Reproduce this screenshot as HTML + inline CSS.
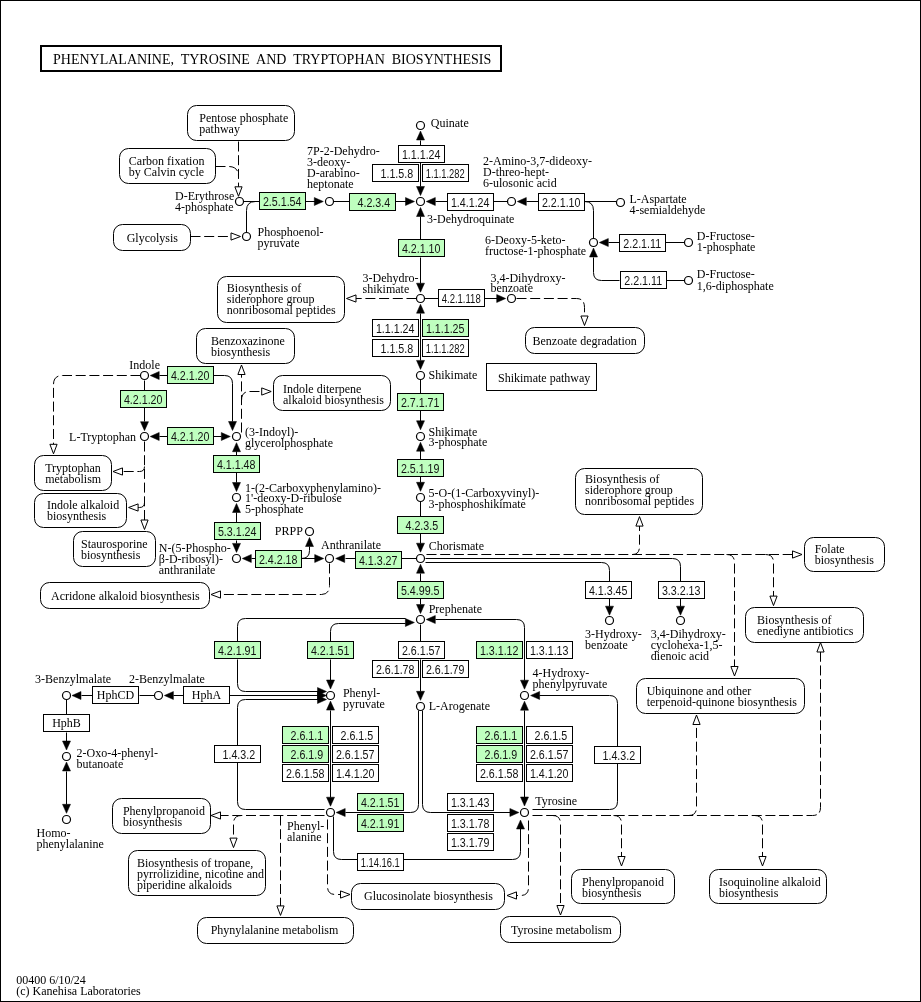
<!DOCTYPE html>
<html><head><meta charset="utf-8"><style>
html,body{margin:0;padding:0;background:#fff;}
svg{display:block;will-change:transform;}
text.s{font-family:"Liberation Serif",serif;font-size:12px;fill:#000;}
text.n{font-family:"Liberation Sans",sans-serif;font-size:12px;fill:#000;}
text.e{font-family:"Liberation Sans",sans-serif;font-size:12px;fill:#111;}
text.t{font-family:"Liberation Serif",serif;font-size:14px;fill:#000;}
</style></head><body>
<svg width="921" height="1002" viewBox="0 0 921 1002">
<rect x="0.5" y="0.5" width="920" height="1001" fill="#fff" stroke="#000" stroke-width="1"/>
<rect x="41" y="46" width="460" height="25" fill="#fff" stroke="#000" stroke-width="2"/>
<text class="t" x="53" y="63.7" xml:space="preserve">PHENYLALANINE,  TYROSINE  AND  TRYPTOPHAN  BIOSYNTHESIS</text>
<path d="M238.5 141.5 V187.5" fill="none" stroke="#000" stroke-width="1" stroke-dasharray="10,3.7"/>
<path d="M215.5 166.5 H228.5 Q238.5 166.5 238.5 176.5" fill="none" stroke="#000" stroke-width="1" stroke-dasharray="10,3.7"/>
<polygon points="238.5,196.3 234.90,186.80 242.10,186.80" fill="#fff" stroke="#000" stroke-width="1"/>
<path d="M190.5 236.5 H231.5" fill="none" stroke="#000" stroke-width="1" stroke-dasharray="10,3.7"/>
<polygon points="240.5,236.5 231.00,240.10 231.00,232.90" fill="#fff" stroke="#000" stroke-width="1"/>
<path d="M416.5 298.5 H355.5" fill="none" stroke="#000" stroke-width="1" stroke-dasharray="10,3.7"/>
<polygon points="346.5,298.5 356.00,294.90 356.00,302.10" fill="#fff" stroke="#000" stroke-width="1"/>
<path d="M516.5 298.5 H576.5 Q584.5 298.5 584.5 307.5 V317.5" fill="none" stroke="#000" stroke-width="1" stroke-dasharray="10,3.7"/>
<polygon points="584.5,325.5 580.90,316.00 588.10,316.00" fill="#fff" stroke="#000" stroke-width="1"/>
<path d="M140.5 375.5 H62.5 Q53.5 375.5 53.5 384.5 V445.5" fill="none" stroke="#000" stroke-width="1" stroke-dasharray="10,3.7"/>
<polygon points="53.5,453.8 49.90,444.30 57.10,444.30" fill="#fff" stroke="#000" stroke-width="1"/>
<path d="M144.5 441.5 V522.5" fill="none" stroke="#000" stroke-width="1" stroke-dasharray="10,3.7"/>
<path d="M144.5 466.5 Q144.5 471.5 139.5 471.5 H121.5" fill="none" stroke="#000" stroke-width="1" stroke-dasharray="10,3.7"/>
<polygon points="113,471.5 122.50,467.90 122.50,475.10" fill="#fff" stroke="#000" stroke-width="1"/>
<path d="M144.5 502.5 Q144.5 507.5 139.5 507.5 H136.5" fill="none" stroke="#000" stroke-width="1" stroke-dasharray="10,3.7"/>
<polygon points="128.6,507.5 138.10,503.90 138.10,511.10" fill="#fff" stroke="#000" stroke-width="1"/>
<polygon points="144.5,529.5 140.90,520.00 148.10,520.00" fill="#fff" stroke="#000" stroke-width="1"/>
<path d="M241.5 432.5 V373.5" fill="none" stroke="#000" stroke-width="1" stroke-dasharray="10,3.7"/>
<path d="M241.5 400.5 Q241.5 391.5 249.5 391.5 H263.5" fill="none" stroke="#000" stroke-width="1" stroke-dasharray="10,3.7"/>
<polygon points="271.2,391.5 261.70,395.10 261.70,387.90" fill="#fff" stroke="#000" stroke-width="1"/>
<polygon points="241.5,365 245.10,374.50 237.90,374.50" fill="#fff" stroke="#000" stroke-width="1"/>
<path d="M329.5 563.5 V585.5 Q329.5 594.5 321.5 594.5 H219.5" fill="none" stroke="#000" stroke-width="1" stroke-dasharray="10,3.7"/>
<polygon points="211,594.5 220.50,590.90 220.50,598.10" fill="#fff" stroke="#000" stroke-width="1"/>
<path d="M426.5 554.5 H794.5" fill="none" stroke="#000" stroke-width="1" stroke-dasharray="10,3.7"/>
<polygon points="802,554.5 792.50,558.10 792.50,550.90" fill="#fff" stroke="#000" stroke-width="1"/>
<path d="M632.5 554.5 Q639.5 554.5 639.5 546.5 V525.5" fill="none" stroke="#000" stroke-width="1" stroke-dasharray="10,3.7"/>
<polygon points="639.5,516.6 643.10,526.10 635.90,526.10" fill="#fff" stroke="#000" stroke-width="1"/>
<path d="M726.5 554.5 Q734.5 554.5 734.5 562.5 V668.5" fill="none" stroke="#000" stroke-width="1" stroke-dasharray="10,3.7"/>
<polygon points="734.5,676 730.90,666.50 738.10,666.50" fill="#fff" stroke="#000" stroke-width="1"/>
<path d="M765.5 554.5 Q773.5 554.5 773.5 562.5 V597.5" fill="none" stroke="#000" stroke-width="1" stroke-dasharray="10,3.7"/>
<polygon points="773.5,605.6 769.90,596.10 777.10,596.10" fill="#fff" stroke="#000" stroke-width="1"/>
<path d="M327.5 819.5 V886.5 Q327.5 894.5 335.5 894.5 H341.5" fill="none" stroke="#000" stroke-width="1" stroke-dasharray="10,3.7"/>
<polygon points="350,894.5 340.50,898.10 340.50,890.90" fill="#fff" stroke="#000" stroke-width="1"/>
<path d="M324.5 815.5 H219.5" fill="none" stroke="#000" stroke-width="1" stroke-dasharray="10,3.7"/>
<polygon points="211,815.5 220.50,811.90 220.50,819.10" fill="#fff" stroke="#000" stroke-width="1"/>
<path d="M241.5 815.5 Q233.5 815.5 233.5 823.5 V839.5" fill="none" stroke="#000" stroke-width="1" stroke-dasharray="10,3.7"/>
<polygon points="233.5,847.6 229.90,838.10 237.10,838.10" fill="#fff" stroke="#000" stroke-width="1"/>
<path d="M280.5 815.5 V907.5" fill="none" stroke="#000" stroke-width="1" stroke-dasharray="10,3.7"/>
<polygon points="280.5,915.4 276.90,905.90 284.10,905.90" fill="#fff" stroke="#000" stroke-width="1"/>
<path d="M532.5 815.5 H812.5 Q820.5 815.5 820.5 807.5 V651.5" fill="none" stroke="#000" stroke-width="1" stroke-dasharray="10,3.7"/>
<polygon points="820.5,642.5 824.10,652.00 816.90,652.00" fill="#fff" stroke="#000" stroke-width="1"/>
<path d="M688.5 815.5 Q696.5 815.5 696.5 807.5 V724.5" fill="none" stroke="#000" stroke-width="1" stroke-dasharray="10,3.7"/>
<polygon points="696.5,715 700.10,724.50 692.90,724.50" fill="#fff" stroke="#000" stroke-width="1"/>
<path d="M613.5 815.5 Q621.5 815.5 621.5 823.5 V858.5" fill="none" stroke="#000" stroke-width="1" stroke-dasharray="10,3.7"/>
<polygon points="621.5,866 617.90,856.50 625.10,856.50" fill="#fff" stroke="#000" stroke-width="1"/>
<path d="M754.5 815.5 Q762.5 815.5 762.5 823.5 V858.5" fill="none" stroke="#000" stroke-width="1" stroke-dasharray="10,3.7"/>
<polygon points="762.5,866 758.90,856.50 766.10,856.50" fill="#fff" stroke="#000" stroke-width="1"/>
<path d="M552.5 815.5 Q560.5 815.5 560.5 823.5 V907.5" fill="none" stroke="#000" stroke-width="1" stroke-dasharray="10,3.7"/>
<polygon points="560.5,915 556.90,905.50 564.10,905.50" fill="#fff" stroke="#000" stroke-width="1"/>
<path d="M528.5 820.5 V887.5 Q528.5 895.5 520.5 895.5 H515.5" fill="none" stroke="#000" stroke-width="1" stroke-dasharray="10,3.7"/>
<polygon points="507,895.5 516.50,891.90 516.50,899.10" fill="#fff" stroke="#000" stroke-width="1"/>
<path d="M243.5 201.5 H259.5" fill="none" stroke="#000" stroke-width="1"/>
<path d="M246.5 232.5 V210.5 Q246.5 201.5 255.5 201.5" fill="none" stroke="#000" stroke-width="1"/>
<path d="M305.5 201.5 H316.5" fill="none" stroke="#000" stroke-width="1"/>
<polygon points="323.3,201.5 314.30,205.50 314.30,197.50" fill="#000" stroke="#000" stroke-width="0.5"/>
<path d="M333.5 201.5 H349.5" fill="none" stroke="#000" stroke-width="1"/>
<path d="M395.5 201.5 H406.5" fill="none" stroke="#000" stroke-width="1"/>
<polygon points="414.5,201.5 405.50,205.50 405.50,197.50" fill="#000" stroke="#000" stroke-width="0.5"/>
<path d="M447.5 201.5 H435.5" fill="none" stroke="#000" stroke-width="1"/>
<polygon points="426.3,201.5 435.30,197.50 435.30,205.50" fill="#000" stroke="#000" stroke-width="0.5"/>
<path d="M493.5 201.5 H507.5" fill="none" stroke="#000" stroke-width="1"/>
<path d="M538.5 201.5 H526.5" fill="none" stroke="#000" stroke-width="1"/>
<polygon points="517.3,201.5 526.30,197.50 526.30,205.50" fill="#000" stroke="#000" stroke-width="0.5"/>
<path d="M584.5 201.5 H616.5" fill="none" stroke="#000" stroke-width="1"/>
<path d="M584.5 201.5 Q593.5 201.5 593.5 210.5 V238.5" fill="none" stroke="#000" stroke-width="1"/>
<path d="M619.5 242.5 H608.5" fill="none" stroke="#000" stroke-width="1"/>
<polygon points="599.3,242.5 608.30,238.50 608.30,246.50" fill="#000" stroke="#000" stroke-width="0.5"/>
<path d="M665.5 242.5 H684.5" fill="none" stroke="#000" stroke-width="1"/>
<path d="M593.5 257.5 V272.5 Q593.5 280.5 601.5 280.5 H619.5" fill="none" stroke="#000" stroke-width="1"/>
<polygon points="593.5,248.0 597.50,257.00 589.50,257.00" fill="#000" stroke="#000" stroke-width="0.5"/>
<path d="M665.5 280.5 H684.5" fill="none" stroke="#000" stroke-width="1"/>
<path d="M420.5 145.5 V140.5" fill="none" stroke="#000" stroke-width="1"/>
<polygon points="420.5,131.0 424.50,140.00 416.50,140.00" fill="#000" stroke="#000" stroke-width="0.5"/>
<path d="M420.5 162.5 V186.5" fill="none" stroke="#000" stroke-width="1"/>
<polygon points="420.5,195.5 416.50,186.50 424.50,186.50" fill="#000" stroke="#000" stroke-width="0.5"/>
<polygon points="420.5,207.5 424.50,216.50 416.50,216.50" fill="#000" stroke="#000" stroke-width="0.5"/>
<path d="M420.5 216.5 V240.5" fill="none" stroke="#000" stroke-width="1"/>
<path d="M420.5 257.5 V283.5" fill="none" stroke="#000" stroke-width="1"/>
<polygon points="420.5,292.2 416.50,283.20 424.50,283.20" fill="#000" stroke="#000" stroke-width="0.5"/>
<path d="M424.5 298.5 H438.5" fill="none" stroke="#000" stroke-width="1"/>
<path d="M484.5 298.5 H497.5" fill="none" stroke="#000" stroke-width="1"/>
<polygon points="505.7,298.5 496.70,302.50 496.70,294.50" fill="#000" stroke="#000" stroke-width="0.5"/>
<polygon points="420.5,304.2 424.50,313.20 416.50,313.20" fill="#000" stroke="#000" stroke-width="0.5"/>
<path d="M420.5 313.5 V360.5" fill="none" stroke="#000" stroke-width="1"/>
<polygon points="420.5,369.4 416.50,360.40 424.50,360.40" fill="#000" stroke="#000" stroke-width="0.5"/>
<path d="M420.5 379.5 V394.5" fill="none" stroke="#000" stroke-width="1"/>
<path d="M420.5 410.5 V421.5" fill="none" stroke="#000" stroke-width="1"/>
<polygon points="420.5,429.8 416.50,420.80 424.50,420.80" fill="#000" stroke="#000" stroke-width="0.5"/>
<polygon points="420.5,442.2 424.50,451.20 416.50,451.20" fill="#000" stroke="#000" stroke-width="0.5"/>
<path d="M420.5 450.5 V460.5" fill="none" stroke="#000" stroke-width="1"/>
<path d="M420.5 476.5 V482.5" fill="none" stroke="#000" stroke-width="1"/>
<polygon points="420.5,491.3 416.50,482.30 424.50,482.30" fill="#000" stroke="#000" stroke-width="0.5"/>
<path d="M420.5 501.5 V517.5" fill="none" stroke="#000" stroke-width="1"/>
<path d="M420.5 533.5 V543.5" fill="none" stroke="#000" stroke-width="1"/>
<polygon points="420.5,552.2 416.50,543.20 424.50,543.20" fill="#000" stroke="#000" stroke-width="0.5"/>
<polygon points="420.5,564.2 424.50,573.20 416.50,573.20" fill="#000" stroke="#000" stroke-width="0.5"/>
<path d="M420.5 573.5 V582.5" fill="none" stroke="#000" stroke-width="1"/>
<path d="M420.5 598.5 V604.5" fill="none" stroke="#000" stroke-width="1"/>
<polygon points="420.5,613.5 416.50,604.50 424.50,604.50" fill="#000" stroke="#000" stroke-width="0.5"/>
<path d="M416.5 558.5 H401.5" fill="none" stroke="#000" stroke-width="1"/>
<path d="M355.5 558.5 H345.5" fill="none" stroke="#000" stroke-width="1"/>
<polygon points="335.7,558.5 344.70,554.50 344.70,562.50" fill="#000" stroke="#000" stroke-width="0.5"/>
<path d="M301.5 558.5 H315.5" fill="none" stroke="#000" stroke-width="1"/>
<polygon points="323.7,558.5 314.70,562.50 314.70,554.50" fill="#000" stroke="#000" stroke-width="0.5"/>
<path d="M301.5 558.5 Q309.5 558.5 309.5 550.5 V546.5" fill="none" stroke="#000" stroke-width="1"/>
<polygon points="309.5,537.5 313.50,546.50 305.50,546.50" fill="#000" stroke="#000" stroke-width="0.5"/>
<path d="M256.5 558.5 H251.5" fill="none" stroke="#000" stroke-width="1"/>
<polygon points="242.3,558.5 251.30,554.50 251.30,562.50" fill="#000" stroke="#000" stroke-width="0.5"/>
<path d="M236.5 540.5 V543.5" fill="none" stroke="#000" stroke-width="1"/>
<polygon points="236.5,552.4 232.50,543.40 240.50,543.40" fill="#000" stroke="#000" stroke-width="0.5"/>
<path d="M236.5 523.5 V512.5" fill="none" stroke="#000" stroke-width="1"/>
<polygon points="236.5,503.5 240.50,512.50 232.50,512.50" fill="#000" stroke="#000" stroke-width="0.5"/>
<path d="M236.5 472.5 V482.5" fill="none" stroke="#000" stroke-width="1"/>
<polygon points="236.5,491.5 232.50,482.50 240.50,482.50" fill="#000" stroke="#000" stroke-width="0.5"/>
<path d="M236.5 456.5 V451.5" fill="none" stroke="#000" stroke-width="1"/>
<polygon points="236.5,442.7 240.50,451.70 232.50,451.70" fill="#000" stroke="#000" stroke-width="0.5"/>
<path d="M213.5 436.5 H221.5" fill="none" stroke="#000" stroke-width="1"/>
<polygon points="230.3,436.5 221.30,440.50 221.30,432.50" fill="#000" stroke="#000" stroke-width="0.5"/>
<path d="M168.5 436.5 H159.5" fill="none" stroke="#000" stroke-width="1"/>
<polygon points="150.2,436.5 159.20,432.50 159.20,440.50" fill="#000" stroke="#000" stroke-width="0.5"/>
<path d="M213.5 375.5 H224.5 Q232.5 375.5 232.5 383.5 V421.5" fill="none" stroke="#000" stroke-width="1"/>
<polygon points="232.5,430.5 228.50,421.50 236.50,421.50" fill="#000" stroke="#000" stroke-width="0.5"/>
<path d="M168.5 375.5 H159.5" fill="none" stroke="#000" stroke-width="1"/>
<polygon points="150.2,375.5 159.20,371.50 159.20,379.50" fill="#000" stroke="#000" stroke-width="0.5"/>
<path d="M144.5 380.5 V390.5" fill="none" stroke="#000" stroke-width="1"/>
<path d="M144.5 407.5 V421.5" fill="none" stroke="#000" stroke-width="1"/>
<polygon points="144.5,430.7 140.50,421.70 148.50,421.70" fill="#000" stroke="#000" stroke-width="0.5"/>
<path d="M425.5 558.5 H672.5 Q680.5 558.5 680.5 566.5 V582.5" fill="none" stroke="#000" stroke-width="1"/>
<path d="M425.5 562.5 H601.5 Q609.5 562.5 609.5 570.5 V582.5" fill="none" stroke="#000" stroke-width="1"/>
<path d="M609.5 598.5 V606.5" fill="none" stroke="#000" stroke-width="1"/>
<polygon points="609.5,615.2 605.50,606.20 613.50,606.20" fill="#000" stroke="#000" stroke-width="0.5"/>
<path d="M680.5 598.5 V606.5" fill="none" stroke="#000" stroke-width="1"/>
<polygon points="680.5,615.2 676.50,606.20 684.50,606.20" fill="#000" stroke="#000" stroke-width="0.5"/>
<path d="M237.5 641.5 V626.5 Q237.5 618.5 245.5 618.5 H405.5" fill="none" stroke="#000" stroke-width="1"/>
<path d="M330.5 642.5 V631.5 Q330.5 623.5 338.5 623.5 H405.5" fill="none" stroke="#000" stroke-width="1"/>
<polygon points="414.4,622.5 405.40,626.50 405.40,618.50" fill="#000" stroke="#000" stroke-width="0.5"/>
<polygon points="426.3,619.5 435.30,615.50 435.30,623.50" fill="#000" stroke="#000" stroke-width="0.5"/>
<path d="M435.5 619.5 H516.5 Q524.5 619.5 524.5 627.5 V680.5" fill="none" stroke="#000" stroke-width="1"/>
<polygon points="524.5,689.2 520.50,680.20 528.50,680.20" fill="#000" stroke="#000" stroke-width="0.5"/>
<path d="M420.5 624.5 V642.5" fill="none" stroke="#000" stroke-width="1"/>
<path d="M420.5 659.5 V691.5" fill="none" stroke="#000" stroke-width="1"/>
<polygon points="420.5,700.3 416.50,691.30 424.50,691.30" fill="#000" stroke="#000" stroke-width="0.5"/>
<path d="M330.5 659.5 V680.5" fill="none" stroke="#000" stroke-width="1"/>
<polygon points="330.5,689.0 326.50,680.00 334.50,680.00" fill="#000" stroke="#000" stroke-width="0.5"/>
<path d="M237.5 659.5 V683.5 Q237.5 691.5 245.5 691.5 H318.5" fill="none" stroke="#000" stroke-width="1"/>
<path d="M229.5 695.5 H318.5" fill="none" stroke="#000" stroke-width="1"/>
<path d="M237.5 745.5 V707.5 Q237.5 699.5 245.5 699.5 H318.5" fill="none" stroke="#000" stroke-width="1"/>
<polygon points="326.5,691.5 317.50,695.50 317.50,687.50" fill="#000" stroke="#000" stroke-width="0.5"/>
<polygon points="326.5,695.5 317.50,699.50 317.50,691.50" fill="#000" stroke="#000" stroke-width="0.5"/>
<polygon points="326.5,699.5 317.50,703.50 317.50,695.50" fill="#000" stroke="#000" stroke-width="0.5"/>
<polygon points="330.5,701.1 334.50,710.10 326.50,710.10" fill="#000" stroke="#000" stroke-width="0.5"/>
<path d="M330.5 710.5 V797.5" fill="none" stroke="#000" stroke-width="1"/>
<polygon points="330.5,806.2 326.50,797.20 334.50,797.20" fill="#000" stroke="#000" stroke-width="0.5"/>
<path d="M237.5 762.5 V801.5 Q237.5 809.5 245.5 809.5 H324.5" fill="none" stroke="#000" stroke-width="1"/>
<path d="M418.5 710.5 V804.5 Q418.5 812.5 410.5 812.5 H345.5" fill="none" stroke="#000" stroke-width="1"/>
<polygon points="336.2,812.5 345.20,808.50 345.20,816.50" fill="#000" stroke="#000" stroke-width="0.5"/>
<path d="M422.5 710.5 V804.5 Q422.5 812.5 430.5 812.5 H510.5" fill="none" stroke="#000" stroke-width="1"/>
<polygon points="518.9,812.5 509.90,816.50 509.90,808.50" fill="#000" stroke="#000" stroke-width="0.5"/>
<path d="M333.5 816.5 V851.5 Q333.5 859.5 341.5 859.5 H357.5" fill="none" stroke="#000" stroke-width="1"/>
<path d="M403.5 859.5 H512.5 Q520.5 859.5 520.5 851.5 V828.5" fill="none" stroke="#000" stroke-width="1"/>
<polygon points="520.5,820.0 524.50,829.00 516.50,829.00" fill="#000" stroke="#000" stroke-width="0.5"/>
<polygon points="530.6,695.5 539.60,691.50 539.60,699.50" fill="#000" stroke="#000" stroke-width="0.5"/>
<path d="M539.5 695.5 H609.5 Q617.5 695.5 617.5 703.5 V746.5" fill="none" stroke="#000" stroke-width="1"/>
<path d="M617.5 763.5 V801.5 Q617.5 809.5 609.5 809.5 H532.5" fill="none" stroke="#000" stroke-width="1"/>
<polygon points="524.5,701.2 528.50,710.20 520.50,710.20" fill="#000" stroke="#000" stroke-width="0.5"/>
<path d="M524.5 710.5 V797.5" fill="none" stroke="#000" stroke-width="1"/>
<polygon points="524.5,806.0 520.50,797.00 528.50,797.00" fill="#000" stroke="#000" stroke-width="0.5"/>
<path d="M92.5 695.5 H81.5" fill="none" stroke="#000" stroke-width="1"/>
<polygon points="72.0,695.5 81.00,691.50 81.00,699.50" fill="#000" stroke="#000" stroke-width="0.5"/>
<path d="M139.5 695.5 H154.5" fill="none" stroke="#000" stroke-width="1"/>
<path d="M183.5 695.5 H173.5" fill="none" stroke="#000" stroke-width="1"/>
<polygon points="164.4,695.5 173.40,691.50 173.40,699.50" fill="#000" stroke="#000" stroke-width="0.5"/>
<path d="M66.5 699.5 V714.5" fill="none" stroke="#000" stroke-width="1"/>
<path d="M66.5 732.5 V741.5" fill="none" stroke="#000" stroke-width="1"/>
<polygon points="66.5,750.0 62.50,741.00 70.50,741.00" fill="#000" stroke="#000" stroke-width="0.5"/>
<polygon points="66.5,762.0 70.50,771.00 62.50,771.00" fill="#000" stroke="#000" stroke-width="0.5"/>
<path d="M66.5 771.5 V804.5" fill="none" stroke="#000" stroke-width="1"/>
<polygon points="66.5,813.3 62.50,804.30 70.50,804.30" fill="#000" stroke="#000" stroke-width="0.5"/>
<rect x="187.5" y="105.5" width="107.0" height="35.0" rx="9" ry="9" fill="#fff" stroke="#000" stroke-width="1"/>
<text class="s" x="199.3" y="122.00">Pentose phosphate</text>
<text class="s" x="199.3" y="133.00">pathway</text>
<rect x="119.5" y="148.5" width="96.0" height="35.0" rx="9" ry="9" fill="#fff" stroke="#000" stroke-width="1"/>
<text class="s" x="128.8" y="165.00">Carbon fixation</text>
<text class="s" x="128.8" y="176.00">by Calvin cycle</text>
<rect x="113.5" y="224.5" width="77.0" height="26.0" rx="9" ry="9" fill="#fff" stroke="#000" stroke-width="1"/>
<text class="s" x="126.7" y="241.60">Glycolysis</text>
<rect x="217.5" y="276.5" width="127.0" height="46.0" rx="9" ry="9" fill="#fff" stroke="#000" stroke-width="1"/>
<text class="s" x="226.8" y="292.00">Biosynthesis of</text>
<text class="s" x="226.8" y="303.00">siderophore group</text>
<text class="s" x="226.8" y="314.00">nonribosomal peptides</text>
<rect x="525.5" y="327.5" width="119.0" height="26.0" rx="9" ry="9" fill="#fff" stroke="#000" stroke-width="1"/>
<text class="s" x="532.5" y="345.30">Benzoate degradation</text>
<rect x="486.5" y="363.5" width="110.0" height="27.0" rx="0" ry="0" fill="#fff" stroke="#000" stroke-width="1"/>
<text class="s" x="498" y="382.00">Shikimate pathway</text>
<rect x="196.5" y="328.5" width="98.0" height="35.0" rx="9" ry="9" fill="#fff" stroke="#000" stroke-width="1"/>
<text class="s" x="210.9" y="345.00">Benzoxazinone</text>
<text class="s" x="210.9" y="356.00">biosynthesis</text>
<rect x="273.5" y="375.5" width="117.0" height="35.0" rx="9" ry="9" fill="#fff" stroke="#000" stroke-width="1"/>
<text class="s" x="283" y="392.70">Indole diterpene</text>
<text class="s" x="283" y="403.70">alkaloid biosynthesis</text>
<rect x="34.5" y="455.5" width="77.0" height="35.0" rx="9" ry="9" fill="#fff" stroke="#000" stroke-width="1"/>
<text class="s" x="45.2" y="472.20">Tryptophan</text>
<text class="s" x="45.2" y="483.20">metabolism</text>
<rect x="34.5" y="493.5" width="92.0" height="34.0" rx="9" ry="9" fill="#fff" stroke="#000" stroke-width="1"/>
<text class="s" x="46.9" y="509.40">Indole alkaloid</text>
<text class="s" x="46.9" y="520.40">biosynthesis</text>
<rect x="73.5" y="531.5" width="82.0" height="35.0" rx="9" ry="9" fill="#fff" stroke="#000" stroke-width="1"/>
<text class="s" x="81" y="547.60">Staurosporine</text>
<text class="s" x="81" y="558.60">biosynthesis</text>
<rect x="40.5" y="582.5" width="169.0" height="26.0" rx="9" ry="9" fill="#fff" stroke="#000" stroke-width="1"/>
<text class="s" x="51" y="599.70">Acridone alkaloid biosynthesis</text>
<rect x="575.5" y="468.5" width="127.0" height="46.0" rx="9" ry="9" fill="#fff" stroke="#000" stroke-width="1"/>
<text class="s" x="585.1" y="482.50">Biosynthesis of</text>
<text class="s" x="585.1" y="493.50">siderophore group</text>
<text class="s" x="585.1" y="504.50">nonribosomal peptides</text>
<rect x="804.5" y="537.5" width="80.0" height="34.0" rx="9" ry="9" fill="#fff" stroke="#000" stroke-width="1"/>
<text class="s" x="814.7" y="552.60">Folate</text>
<text class="s" x="814.7" y="563.60">biosynthesis</text>
<rect x="745.5" y="607.5" width="118.0" height="35.0" rx="9" ry="9" fill="#fff" stroke="#000" stroke-width="1"/>
<text class="s" x="757.1" y="624.20">Biosynthesis of</text>
<text class="s" x="757.1" y="635.20">enediyne antibiotics</text>
<rect x="636.5" y="678.5" width="168.0" height="35.0" rx="9" ry="9" fill="#fff" stroke="#000" stroke-width="1"/>
<text class="s" x="646.7" y="694.70">Ubiquinone and other</text>
<text class="s" x="646.7" y="705.70">terpenoid-quinone biosynthesis</text>
<rect x="112.5" y="798.5" width="98.0" height="35.0" rx="9" ry="9" fill="#fff" stroke="#000" stroke-width="1"/>
<text class="s" x="122.9" y="815.00">Phenylpropanoid</text>
<text class="s" x="122.9" y="826.00">biosynthesis</text>
<rect x="128.5" y="850.5" width="137.0" height="45.0" rx="9" ry="9" fill="#fff" stroke="#000" stroke-width="1"/>
<text class="s" x="137" y="866.70">Biosynthesis of tropane,</text>
<text class="s" x="137" y="877.70">pyrrolizidine, nicotine and</text>
<text class="s" x="137" y="888.70">piperidine alkaloids</text>
<rect x="197.5" y="917.5" width="156.0" height="26.0" rx="9" ry="9" fill="#fff" stroke="#000" stroke-width="1"/>
<text class="s" x="210.7" y="933.80">Phynylalanine metabolism</text>
<rect x="351.5" y="883.5" width="153.0" height="26.0" rx="9" ry="9" fill="#fff" stroke="#000" stroke-width="1"/>
<text class="s" x="364" y="900.00">Glucosinolate biosynthesis</text>
<rect x="500.5" y="916.5" width="120.0" height="26.0" rx="9" ry="9" fill="#fff" stroke="#000" stroke-width="1"/>
<text class="s" x="511" y="933.50">Tyrosine metabolism</text>
<rect x="571.5" y="869.5" width="103.0" height="34.0" rx="9" ry="9" fill="#fff" stroke="#000" stroke-width="1"/>
<text class="s" x="582" y="886.00">Phenylpropanoid</text>
<text class="s" x="582" y="897.00">biosynthesis</text>
<rect x="709.5" y="869.5" width="117.0" height="34.0" rx="9" ry="9" fill="#fff" stroke="#000" stroke-width="1"/>
<text class="s" x="719" y="886.00">Isoquinoline alkaloid</text>
<text class="s" x="719" y="897.00">biosynthesis</text>
<rect x="259.5" y="192.5" width="46" height="17" fill="#bfffbf" stroke="#000" stroke-width="1"/>
<text class="e" x="282.2" y="205.5" text-anchor="middle" textLength="38.6" lengthAdjust="spacingAndGlyphs">2.5.1.54</text>
<rect x="349.5" y="193.5" width="46" height="17" fill="#bfffbf" stroke="#000" stroke-width="1"/>
<text class="e" x="373.8" y="206.5" text-anchor="middle" textLength="32.6" lengthAdjust="spacingAndGlyphs">4.2.3.4</text>
<rect x="398.5" y="145.5" width="46" height="17" fill="#fff" stroke="#000" stroke-width="1"/>
<text class="e" x="421.2" y="158.5" text-anchor="middle" textLength="38.6" lengthAdjust="spacingAndGlyphs">1.1.1.24</text>
<rect x="372.5" y="164.5" width="46" height="17" fill="#fff" stroke="#000" stroke-width="1"/>
<text class="e" x="396.8" y="177.5" text-anchor="middle" textLength="32.6" lengthAdjust="spacingAndGlyphs">1.1.5.8</text>
<rect x="422.5" y="164.5" width="46" height="17" fill="#fff" stroke="#000" stroke-width="1"/>
<text class="e" x="445.2" y="177.5" text-anchor="middle" textLength="39.0" lengthAdjust="spacingAndGlyphs">1.1.1.282</text>
<rect x="447.5" y="193.5" width="46" height="17" fill="#fff" stroke="#000" stroke-width="1"/>
<text class="e" x="470.2" y="206.5" text-anchor="middle" textLength="38.6" lengthAdjust="spacingAndGlyphs">1.4.1.24</text>
<rect x="538.5" y="193.5" width="46" height="17" fill="#fff" stroke="#000" stroke-width="1"/>
<text class="e" x="561.2" y="206.5" text-anchor="middle" textLength="38.6" lengthAdjust="spacingAndGlyphs">2.2.1.10</text>
<rect x="619.5" y="234.5" width="46" height="17" fill="#fff" stroke="#000" stroke-width="1"/>
<text class="e" x="642.2" y="247.5" text-anchor="middle" textLength="37.8" lengthAdjust="spacingAndGlyphs">2.2.1.11</text>
<rect x="620.5" y="271.5" width="46" height="17" fill="#fff" stroke="#000" stroke-width="1"/>
<text class="e" x="643.2" y="284.5" text-anchor="middle" textLength="37.8" lengthAdjust="spacingAndGlyphs">2.2.1.11</text>
<rect x="398.5" y="239.5" width="46" height="17" fill="#bfffbf" stroke="#000" stroke-width="1"/>
<text class="e" x="421.2" y="252.5" text-anchor="middle" textLength="38.6" lengthAdjust="spacingAndGlyphs">4.2.1.10</text>
<rect x="438.5" y="289.5" width="46" height="17" fill="#fff" stroke="#000" stroke-width="1"/>
<text class="e" x="461.2" y="302.5" text-anchor="middle" textLength="39.0" lengthAdjust="spacingAndGlyphs">4.2.1.118</text>
<rect x="372.5" y="319.5" width="46" height="17" fill="#fff" stroke="#000" stroke-width="1"/>
<text class="e" x="395.2" y="332.5" text-anchor="middle" textLength="38.6" lengthAdjust="spacingAndGlyphs">1.1.1.24</text>
<rect x="422.5" y="319.5" width="46" height="17" fill="#bfffbf" stroke="#000" stroke-width="1"/>
<text class="e" x="445.2" y="332.5" text-anchor="middle" textLength="38.6" lengthAdjust="spacingAndGlyphs">1.1.1.25</text>
<rect x="372.5" y="339.5" width="46" height="17" fill="#fff" stroke="#000" stroke-width="1"/>
<text class="e" x="396.8" y="352.5" text-anchor="middle" textLength="32.6" lengthAdjust="spacingAndGlyphs">1.1.5.8</text>
<rect x="422.5" y="339.5" width="46" height="17" fill="#fff" stroke="#000" stroke-width="1"/>
<text class="e" x="445.2" y="352.5" text-anchor="middle" textLength="39.0" lengthAdjust="spacingAndGlyphs">1.1.1.282</text>
<rect x="397.5" y="393.5" width="46" height="17" fill="#bfffbf" stroke="#000" stroke-width="1"/>
<text class="e" x="420.2" y="406.5" text-anchor="middle" textLength="38.6" lengthAdjust="spacingAndGlyphs">2.7.1.71</text>
<rect x="397.5" y="459.5" width="46" height="17" fill="#bfffbf" stroke="#000" stroke-width="1"/>
<text class="e" x="420.2" y="472.5" text-anchor="middle" textLength="38.6" lengthAdjust="spacingAndGlyphs">2.5.1.19</text>
<rect x="397.5" y="516.5" width="46" height="17" fill="#bfffbf" stroke="#000" stroke-width="1"/>
<text class="e" x="421.8" y="529.5" text-anchor="middle" textLength="32.6" lengthAdjust="spacingAndGlyphs">4.2.3.5</text>
<rect x="355.5" y="551.5" width="46" height="17" fill="#bfffbf" stroke="#000" stroke-width="1"/>
<text class="e" x="378.2" y="564.5" text-anchor="middle" textLength="38.6" lengthAdjust="spacingAndGlyphs">4.1.3.27</text>
<rect x="397.5" y="581.5" width="46" height="17" fill="#bfffbf" stroke="#000" stroke-width="1"/>
<text class="e" x="420.2" y="594.5" text-anchor="middle" textLength="38.6" lengthAdjust="spacingAndGlyphs">5.4.99.5</text>
<rect x="585.5" y="581.5" width="46" height="17" fill="#fff" stroke="#000" stroke-width="1"/>
<text class="e" x="608.2" y="594.5" text-anchor="middle" textLength="38.6" lengthAdjust="spacingAndGlyphs">4.1.3.45</text>
<rect x="658.5" y="581.5" width="46" height="17" fill="#fff" stroke="#000" stroke-width="1"/>
<text class="e" x="681.2" y="594.5" text-anchor="middle" textLength="38.6" lengthAdjust="spacingAndGlyphs">3.3.2.13</text>
<rect x="167.5" y="366.5" width="46" height="17" fill="#bfffbf" stroke="#000" stroke-width="1"/>
<text class="e" x="190.2" y="379.5" text-anchor="middle" textLength="38.6" lengthAdjust="spacingAndGlyphs">4.2.1.20</text>
<rect x="120.5" y="390.5" width="46" height="17" fill="#bfffbf" stroke="#000" stroke-width="1"/>
<text class="e" x="143.2" y="403.5" text-anchor="middle" textLength="38.6" lengthAdjust="spacingAndGlyphs">4.2.1.20</text>
<rect x="167.5" y="427.5" width="46" height="17" fill="#bfffbf" stroke="#000" stroke-width="1"/>
<text class="e" x="190.2" y="440.5" text-anchor="middle" textLength="38.6" lengthAdjust="spacingAndGlyphs">4.2.1.20</text>
<rect x="213.5" y="455.5" width="46" height="17" fill="#bfffbf" stroke="#000" stroke-width="1"/>
<text class="e" x="236.2" y="468.5" text-anchor="middle" textLength="38.6" lengthAdjust="spacingAndGlyphs">4.1.1.48</text>
<rect x="214.5" y="522.5" width="46" height="17" fill="#bfffbf" stroke="#000" stroke-width="1"/>
<text class="e" x="237.2" y="535.5" text-anchor="middle" textLength="38.6" lengthAdjust="spacingAndGlyphs">5.3.1.24</text>
<rect x="255.5" y="550.5" width="46" height="17" fill="#bfffbf" stroke="#000" stroke-width="1"/>
<text class="e" x="278.2" y="563.5" text-anchor="middle" textLength="38.6" lengthAdjust="spacingAndGlyphs">2.4.2.18</text>
<rect x="214.5" y="641.5" width="46" height="17" fill="#bfffbf" stroke="#000" stroke-width="1"/>
<text class="e" x="237.2" y="654.5" text-anchor="middle" textLength="38.6" lengthAdjust="spacingAndGlyphs">4.2.1.91</text>
<rect x="307.5" y="641.5" width="46" height="17" fill="#bfffbf" stroke="#000" stroke-width="1"/>
<text class="e" x="330.2" y="654.5" text-anchor="middle" textLength="38.6" lengthAdjust="spacingAndGlyphs">4.2.1.51</text>
<rect x="398.5" y="641.5" width="46" height="17" fill="#fff" stroke="#000" stroke-width="1"/>
<text class="e" x="421.2" y="654.5" text-anchor="middle" textLength="38.6" lengthAdjust="spacingAndGlyphs">2.6.1.57</text>
<rect x="372.5" y="660.5" width="46" height="17" fill="#fff" stroke="#000" stroke-width="1"/>
<text class="e" x="395.2" y="673.5" text-anchor="middle" textLength="38.6" lengthAdjust="spacingAndGlyphs">2.6.1.78</text>
<rect x="422.5" y="660.5" width="46" height="17" fill="#fff" stroke="#000" stroke-width="1"/>
<text class="e" x="445.2" y="673.5" text-anchor="middle" textLength="38.6" lengthAdjust="spacingAndGlyphs">2.6.1.79</text>
<rect x="476.5" y="641.5" width="46" height="17" fill="#bfffbf" stroke="#000" stroke-width="1"/>
<text class="e" x="499.2" y="654.5" text-anchor="middle" textLength="38.6" lengthAdjust="spacingAndGlyphs">1.3.1.12</text>
<rect x="526.5" y="641.5" width="46" height="17" fill="#fff" stroke="#000" stroke-width="1"/>
<text class="e" x="549.2" y="654.5" text-anchor="middle" textLength="38.6" lengthAdjust="spacingAndGlyphs">1.3.1.13</text>
<rect x="214.5" y="745.5" width="46" height="17" fill="#fff" stroke="#000" stroke-width="1"/>
<text class="e" x="238.8" y="758.5" text-anchor="middle" textLength="32.6" lengthAdjust="spacingAndGlyphs">1.4.3.2</text>
<rect x="282.5" y="726.5" width="46" height="17" fill="#bfffbf" stroke="#000" stroke-width="1"/>
<text class="e" x="306.8" y="739.5" text-anchor="middle" textLength="32.6" lengthAdjust="spacingAndGlyphs">2.6.1.1</text>
<rect x="332.5" y="726.5" width="46" height="17" fill="#fff" stroke="#000" stroke-width="1"/>
<text class="e" x="356.8" y="739.5" text-anchor="middle" textLength="32.6" lengthAdjust="spacingAndGlyphs">2.6.1.5</text>
<rect x="282.5" y="745.5" width="46" height="17" fill="#bfffbf" stroke="#000" stroke-width="1"/>
<text class="e" x="306.8" y="758.5" text-anchor="middle" textLength="32.6" lengthAdjust="spacingAndGlyphs">2.6.1.9</text>
<rect x="332.5" y="745.5" width="46" height="17" fill="#fff" stroke="#000" stroke-width="1"/>
<text class="e" x="355.2" y="758.5" text-anchor="middle" textLength="38.6" lengthAdjust="spacingAndGlyphs">2.6.1.57</text>
<rect x="282.5" y="764.5" width="46" height="17" fill="#fff" stroke="#000" stroke-width="1"/>
<text class="e" x="305.2" y="777.5" text-anchor="middle" textLength="38.6" lengthAdjust="spacingAndGlyphs">2.6.1.58</text>
<rect x="332.5" y="764.5" width="46" height="17" fill="#fff" stroke="#000" stroke-width="1"/>
<text class="e" x="355.2" y="777.5" text-anchor="middle" textLength="38.6" lengthAdjust="spacingAndGlyphs">1.4.1.20</text>
<rect x="357.5" y="793.5" width="46" height="17" fill="#bfffbf" stroke="#000" stroke-width="1"/>
<text class="e" x="380.2" y="806.5" text-anchor="middle" textLength="38.6" lengthAdjust="spacingAndGlyphs">4.2.1.51</text>
<rect x="357.5" y="814.5" width="46" height="17" fill="#bfffbf" stroke="#000" stroke-width="1"/>
<text class="e" x="380.2" y="827.5" text-anchor="middle" textLength="38.6" lengthAdjust="spacingAndGlyphs">4.2.1.91</text>
<rect x="447.5" y="793.5" width="46" height="17" fill="#fff" stroke="#000" stroke-width="1"/>
<text class="e" x="470.2" y="806.5" text-anchor="middle" textLength="38.6" lengthAdjust="spacingAndGlyphs">1.3.1.43</text>
<rect x="447.5" y="814.5" width="46" height="17" fill="#fff" stroke="#000" stroke-width="1"/>
<text class="e" x="470.2" y="827.5" text-anchor="middle" textLength="38.6" lengthAdjust="spacingAndGlyphs">1.3.1.78</text>
<rect x="447.5" y="833.5" width="46" height="17" fill="#fff" stroke="#000" stroke-width="1"/>
<text class="e" x="470.2" y="846.5" text-anchor="middle" textLength="38.6" lengthAdjust="spacingAndGlyphs">1.3.1.79</text>
<rect x="357.5" y="853.5" width="46" height="17" fill="#fff" stroke="#000" stroke-width="1"/>
<text class="e" x="380.2" y="866.5" text-anchor="middle" textLength="39.0" lengthAdjust="spacingAndGlyphs">1.14.16.1</text>
<rect x="476.5" y="726.5" width="46" height="17" fill="#bfffbf" stroke="#000" stroke-width="1"/>
<text class="e" x="500.8" y="739.5" text-anchor="middle" textLength="32.6" lengthAdjust="spacingAndGlyphs">2.6.1.1</text>
<rect x="526.5" y="726.5" width="46" height="17" fill="#fff" stroke="#000" stroke-width="1"/>
<text class="e" x="550.8" y="739.5" text-anchor="middle" textLength="32.6" lengthAdjust="spacingAndGlyphs">2.6.1.5</text>
<rect x="476.5" y="745.5" width="46" height="17" fill="#bfffbf" stroke="#000" stroke-width="1"/>
<text class="e" x="500.8" y="758.5" text-anchor="middle" textLength="32.6" lengthAdjust="spacingAndGlyphs">2.6.1.9</text>
<rect x="526.5" y="745.5" width="46" height="17" fill="#fff" stroke="#000" stroke-width="1"/>
<text class="e" x="549.2" y="758.5" text-anchor="middle" textLength="38.6" lengthAdjust="spacingAndGlyphs">2.6.1.57</text>
<rect x="476.5" y="764.5" width="46" height="17" fill="#fff" stroke="#000" stroke-width="1"/>
<text class="e" x="499.2" y="777.5" text-anchor="middle" textLength="38.6" lengthAdjust="spacingAndGlyphs">2.6.1.58</text>
<rect x="526.5" y="764.5" width="46" height="17" fill="#fff" stroke="#000" stroke-width="1"/>
<text class="e" x="549.2" y="777.5" text-anchor="middle" textLength="38.6" lengthAdjust="spacingAndGlyphs">1.4.1.20</text>
<rect x="594.5" y="746.5" width="46" height="17" fill="#fff" stroke="#000" stroke-width="1"/>
<text class="e" x="618.8" y="759.5" text-anchor="middle" textLength="32.6" lengthAdjust="spacingAndGlyphs">1.4.3.2</text>
<rect x="92.5" y="686.5" width="46" height="17" fill="#fff" stroke="#000" stroke-width="1"/>
<text class="s" x="115.5" y="699" text-anchor="middle">HphCD</text>
<rect x="183.5" y="686.5" width="46" height="17" fill="#fff" stroke="#000" stroke-width="1"/>
<text class="s" x="206.5" y="699" text-anchor="middle">HphA</text>
<rect x="43.5" y="714.5" width="46" height="17" fill="#fff" stroke="#000" stroke-width="1"/>
<text class="s" x="66.5" y="727" text-anchor="middle">HphB</text>
<circle cx="239.5" cy="201.5" r="4" fill="#fff" stroke="#000" stroke-width="1.2"/>
<circle cx="246.5" cy="236.5" r="4" fill="#fff" stroke="#000" stroke-width="1.2"/>
<circle cx="329.5" cy="201.5" r="4" fill="#fff" stroke="#000" stroke-width="1.2"/>
<circle cx="420.5" cy="125.5" r="4" fill="#fff" stroke="#000" stroke-width="1.2"/>
<circle cx="420.5" cy="201.5" r="4" fill="#fff" stroke="#000" stroke-width="1.2"/>
<circle cx="511.5" cy="201.5" r="4" fill="#fff" stroke="#000" stroke-width="1.2"/>
<circle cx="620.5" cy="202.5" r="4" fill="#fff" stroke="#000" stroke-width="1.2"/>
<circle cx="593.5" cy="242.5" r="4" fill="#fff" stroke="#000" stroke-width="1.2"/>
<circle cx="688.5" cy="242.5" r="4" fill="#fff" stroke="#000" stroke-width="1.2"/>
<circle cx="688.5" cy="280.5" r="4" fill="#fff" stroke="#000" stroke-width="1.2"/>
<circle cx="420.5" cy="298.5" r="4" fill="#fff" stroke="#000" stroke-width="1.2"/>
<circle cx="511.5" cy="298.5" r="4" fill="#fff" stroke="#000" stroke-width="1.2"/>
<circle cx="420.5" cy="375.5" r="4" fill="#fff" stroke="#000" stroke-width="1.2"/>
<circle cx="420.5" cy="436.5" r="4" fill="#fff" stroke="#000" stroke-width="1.2"/>
<circle cx="420.5" cy="497.5" r="4" fill="#fff" stroke="#000" stroke-width="1.2"/>
<circle cx="420.5" cy="558.5" r="4" fill="#fff" stroke="#000" stroke-width="1.2"/>
<circle cx="329.5" cy="558.5" r="4" fill="#fff" stroke="#000" stroke-width="1.2"/>
<circle cx="309.5" cy="531.5" r="4" fill="#fff" stroke="#000" stroke-width="1.2"/>
<circle cx="236.5" cy="558.5" r="4" fill="#fff" stroke="#000" stroke-width="1.2"/>
<circle cx="236.5" cy="497.5" r="4" fill="#fff" stroke="#000" stroke-width="1.2"/>
<circle cx="236.5" cy="436.5" r="4" fill="#fff" stroke="#000" stroke-width="1.2"/>
<circle cx="144.5" cy="375.5" r="4" fill="#fff" stroke="#000" stroke-width="1.2"/>
<circle cx="144.5" cy="436.5" r="4" fill="#fff" stroke="#000" stroke-width="1.2"/>
<circle cx="420.5" cy="619.5" r="4" fill="#fff" stroke="#000" stroke-width="1.2"/>
<circle cx="330.5" cy="695.5" r="4" fill="#fff" stroke="#000" stroke-width="1.2"/>
<circle cx="420.5" cy="706.5" r="4" fill="#fff" stroke="#000" stroke-width="1.2"/>
<circle cx="524.5" cy="695.5" r="4" fill="#fff" stroke="#000" stroke-width="1.2"/>
<circle cx="330.5" cy="812.5" r="4" fill="#fff" stroke="#000" stroke-width="1.2"/>
<circle cx="524.5" cy="812.5" r="4" fill="#fff" stroke="#000" stroke-width="1.2"/>
<circle cx="609.5" cy="620.5" r="4" fill="#fff" stroke="#000" stroke-width="1.2"/>
<circle cx="680.5" cy="620.5" r="4" fill="#fff" stroke="#000" stroke-width="1.2"/>
<circle cx="66.5" cy="695.5" r="4" fill="#fff" stroke="#000" stroke-width="1.2"/>
<circle cx="158.5" cy="695.5" r="4" fill="#fff" stroke="#000" stroke-width="1.2"/>
<circle cx="66.5" cy="756.5" r="4" fill="#fff" stroke="#000" stroke-width="1.2"/>
<circle cx="66.5" cy="819.5" r="4" fill="#fff" stroke="#000" stroke-width="1.2"/>
<text class="s" x="175" y="199.50">D-Erythrose</text>
<text class="s" x="175" y="210.50">4-phosphate</text>
<text class="s" x="257.5" y="236.30">Phosphoenol-</text>
<text class="s" x="257.5" y="246.80">pyruvate</text>
<text class="s" x="307" y="155.00">7P-2-Dehydro-</text>
<text class="s" x="307" y="166.00">3-deoxy-</text>
<text class="s" x="307" y="177.00">D-arabino-</text>
<text class="s" x="307" y="188.00">heptonate</text>
<text class="s" x="430.8" y="127.00">Quinate</text>
<text class="s" x="427" y="223.30">3-Dehydroquinate</text>
<text class="s" x="483" y="165.00">2-Amino-3,7-dideoxy-</text>
<text class="s" x="483" y="176.00">D-threo-hept-</text>
<text class="s" x="483" y="187.00">6-ulosonic acid</text>
<text class="s" x="629.4" y="203.00">L-Aspartate</text>
<text class="s" x="629.4" y="214.00">4-semialdehyde</text>
<text class="s" x="484.9" y="244.20">6-Deoxy-5-keto-</text>
<text class="s" x="484.9" y="254.70">fructose-1-phosphate</text>
<text class="s" x="696.8" y="239.70">D-Fructose-</text>
<text class="s" x="696.8" y="250.70">1-phosphate</text>
<text class="s" x="696.8" y="278.30">D-Fructose-</text>
<text class="s" x="696.8" y="289.80">1,6-diphosphate</text>
<text class="s" x="490.4" y="281.80">3,4-Dihydroxy-</text>
<text class="s" x="490.4" y="292.30">benzoate</text>
<text class="s" x="362.6" y="281.50">3-Dehydro-</text>
<text class="s" x="362.6" y="293.00">shikimate</text>
<text class="s" x="428.6" y="379.20">Shikimate</text>
<text class="s" x="428.6" y="435.50">Shikimate</text>
<text class="s" x="428.6" y="446.20">3-phosphate</text>
<text class="s" x="428.6" y="497.00">5-O-(1-Carboxyvinyl)-</text>
<text class="s" x="428.6" y="507.70">3-phosphoshikimate</text>
<text class="s" x="428.7" y="550.40">Chorismate</text>
<text class="s" x="321" y="548.60">Anthranilate</text>
<text class="s" x="274.8" y="535.40">PRPP</text>
<text class="s" x="158.8" y="552.10">N-(5-Phospho-</text>
<text class="s" x="158.8" y="562.90">β-D-ribosyl)-</text>
<text class="s" x="158.8" y="573.70">anthranilate</text>
<text class="s" x="245" y="491.60">1-(2-Carboxyphenylamino)-</text>
<text class="s" x="245" y="502.40">1'-deoxy-D-ribulose</text>
<text class="s" x="245" y="513.20">5-phosphate</text>
<text class="s" x="245" y="435.70">(3-Indoyl)-</text>
<text class="s" x="245" y="446.50">glycerolphosphate</text>
<text class="s" x="129.3" y="368.60">Indole</text>
<text class="s" x="69.1" y="440.60">L-Tryptophan</text>
<text class="s" x="428.7" y="613.00">Prephenate</text>
<text class="s" x="342.9" y="696.70">Phenyl-</text>
<text class="s" x="342.9" y="707.70">pyruvate</text>
<text class="s" x="428.7" y="710.20">L-Arogenate</text>
<text class="s" x="532.6" y="676.50">4-Hydroxy-</text>
<text class="s" x="532.6" y="687.50">phenylpyruvate</text>
<text class="s" x="585.1" y="637.50">3-Hydroxy-</text>
<text class="s" x="585.1" y="648.50">benzoate</text>
<text class="s" x="650.8" y="637.50">3,4-Dihydroxy-</text>
<text class="s" x="650.8" y="648.50">cyclohexa-1,5-</text>
<text class="s" x="650.8" y="659.50">dienoic acid</text>
<text class="s" x="35.1" y="683.40">3-Benzylmalate</text>
<text class="s" x="128.9" y="683.40">2-Benzylmalate</text>
<text class="s" x="76.6" y="757.20">2-Oxo-4-phenyl-</text>
<text class="s" x="76.6" y="768.20">butanoate</text>
<text class="s" x="36.5" y="837.00">Homo-</text>
<text class="s" x="36.5" y="848.40">phenylalanine</text>
<text class="s" x="287" y="830.20">Phenyl-</text>
<text class="s" x="287" y="841.20">alanine</text>
<text class="s" x="535.3" y="805.00">Tyrosine</text>
<text class="s" x="16.2" y="984.40">00400 6/10/24</text>
<text class="s" x="16.2" y="995.30">(c) Kanehisa Laboratories</text>
</svg></body></html>
